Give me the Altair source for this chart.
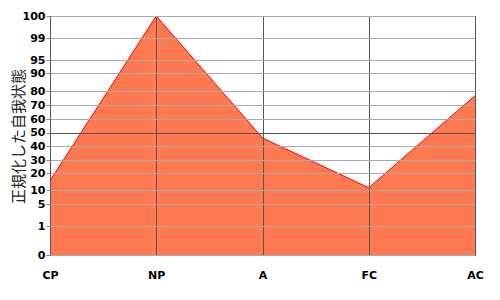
import altair as alt
import pandas as pd

categories = ["CP", "NP", "A", "FC", "AC"]
values = [15.6, 100, 46, 11.5, 76.7]
tick_values = [0, 1, 5, 10, 20, 30, 40, 50, 60, 70, 80, 90, 95, 99, 100]

df = pd.DataFrame({"cat": categories, "val": values})

H = 239
W = 425
# pixel offsets from top for each tick value (non-linear normalized scale)
y_range = [239.3, 210.3, 188, 174.3, 157.3, 144, 130, 116.7, 103, 89.3, 75, 57, 44, 22.3, 0]

label_font = "DejaVu Sans"

x_enc = alt.X(
    "cat:N",
    sort=categories,
    scale=alt.Scale(type="point", padding=0, domain=categories),
    axis=alt.Axis(
        title=None,
        labelAngle=0,
        ticks=False,
        domain=False,
        grid=True,
        gridColor="#555555",
        gridWidth=1,
        labelFont=label_font,
        labelFontWeight="bold",
        labelFontSize=11,
        labelColor="#000000",
        labelPadding=14,
        zindex=1,
    ),
)

y_enc = alt.Y(
    "val:Q",
    scale=alt.Scale(type="linear", domain=tick_values, range=y_range, clamp=True, nice=False, zero=False),
    axis=alt.Axis(
        title="正規化した自我状態",
        titleFont="Noto Sans CJK JP",
        titleFontSize=15,
        titleFontWeight="normal",
        titleColor="#222222",
        titleX=-32,
        titleY=120,
        titleAngle=270,
        titleAlign="center",
        titleBaseline="middle",
        values=tick_values,
        labelFont=label_font,
        labelFontWeight="bold",
        labelFontSize=11,
        labelColor="#000000",
        labelPadding=1,
        labelOverlap=False,
        labelFlush=False,
        tickSize=4,
        tickColor="#888888",
        domain=False,
        grid=True,
        gridColor={"condition": {"test": "datum.value === 50", "value": "#555555"}, "value": "#aaaaaa"},
        gridWidth=1,
        zindex=1,
    ),
)

area = alt.Chart(df).mark_area(color="#FF7A50", opacity=1).encode(x=x_enc, y=y_enc)
line = alt.Chart(df).mark_line(color="#FF0000", strokeWidth=1).encode(x=x_enc, y=y_enc)

chart = (
    alt.layer(area, line)
    .properties(
        width=W,
        height=H,
        autosize=alt.AutoSizeParams(type="none"),
        padding={"left": 50, "top": 16, "right": 25, "bottom": 45},
        background="white",
    )
    .configure_view(stroke="#000000", strokeWidth=1)
)

chart.save("out.html", embed_options={"renderer": "svg", "actions": False})
